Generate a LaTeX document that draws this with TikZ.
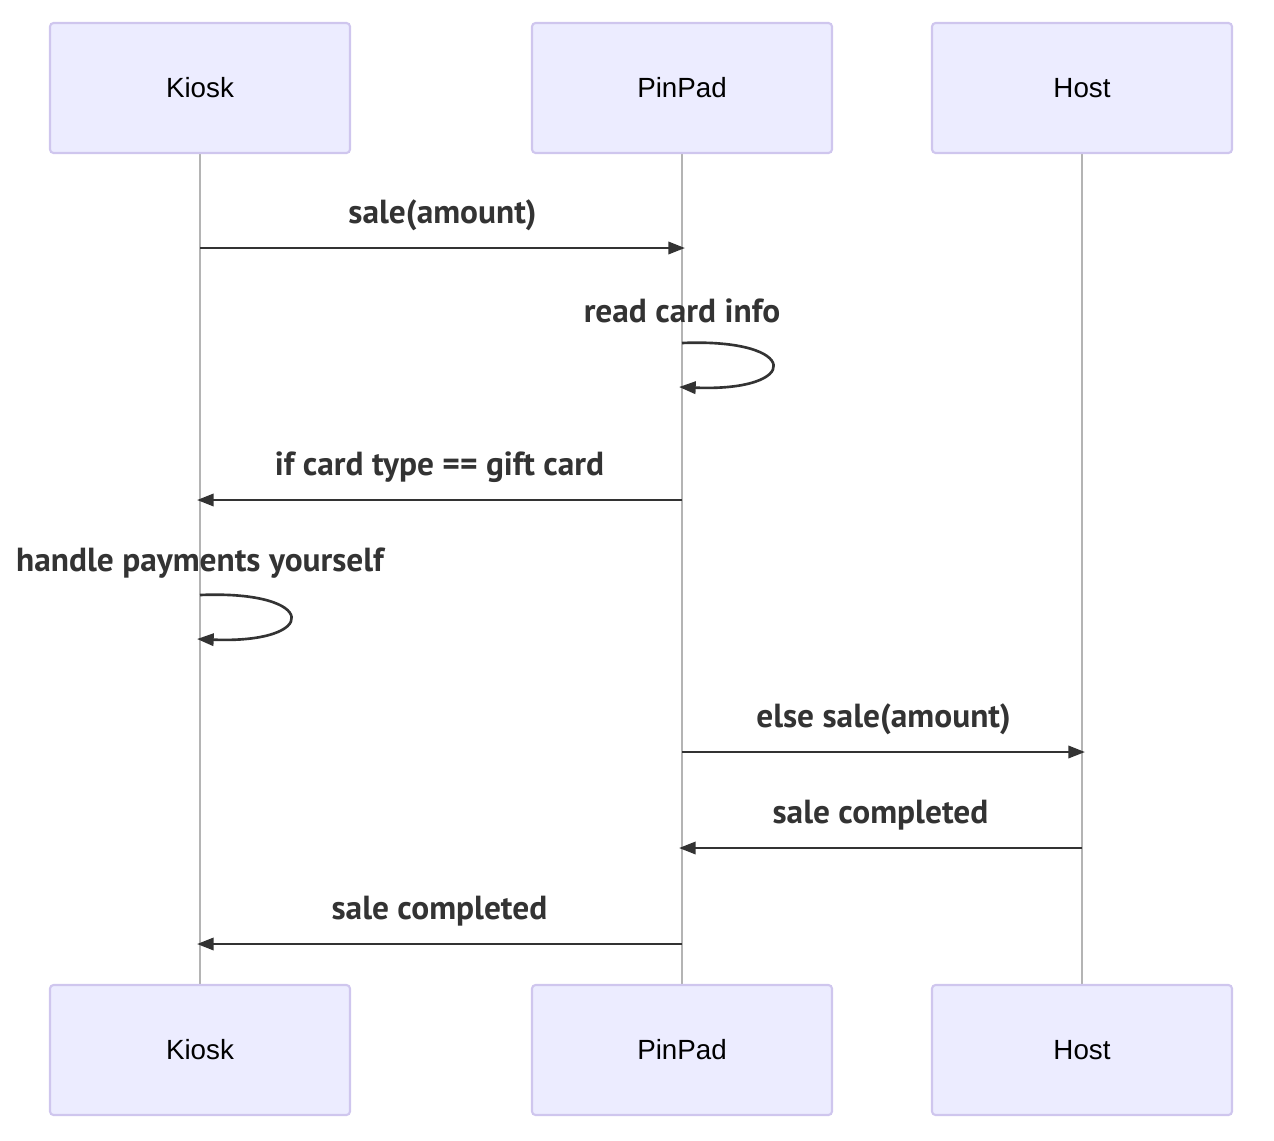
\documentclass[tikz,border=0pt]{standalone}
\usepackage{fontspec}
\setmainfont{Liberation Sans}
\newfontfamily\msgfont{PT Sans}
\usetikzlibrary{arrows.meta}
\definecolor{actorfill}{HTML}{ECECFF}
\definecolor{actorline}{HTML}{CFC6EE}
\definecolor{lifeline}{HTML}{B4B4B4}
\definecolor{msgline}{HTML}{333333}
\newcommand{\tikzActorNode}[3]{
  \node[draw=actorline,line width=1.2pt,fill=actorfill,rectangle,rounded corners=2pt,inner sep=0pt,minimum height=2.6cm,minimum width=6cm,font=\fontsize{15.8}{18}\selectfont] (#1) at (#2) {#3};
}

\begin{document}
\begin{tikzpicture}[x=0.02cm,y=-0.02cm,
  msg/.style={draw=msgline,line width=1.5pt,-{Triangle[length=9.5pt,width=7pt]}},
  lbl/.style={font=\msgfont\bfseries\fontsize{19}{21}\selectfont,text=msgline,inner sep=0pt}]
  \useasboundingbox (0,0) rectangle (1274,1140);
  % lifelines
  \draw[lifeline,line width=1pt] (200,153) -- (200,985);
  \draw[lifeline,line width=1pt] (682,153) -- (682,985);
  \draw[lifeline,line width=1pt] (1082,153) -- (1082,985);
  % actors
  \tikzActorNode{k}{200,88}{Kiosk}
  \tikzActorNode{p}{682,88}{PinPad}
  \tikzActorNode{h}{1082,88}{Host}
  \tikzActorNode{kb}{200,1050}{Kiosk}
  \tikzActorNode{pb}{682,1050}{PinPad}
  \tikzActorNode{hb}{1082,1050}{Host}
  % message points
  \coordinate (k1) at (200,248);  \coordinate (p1) at (685,248);
  \coordinate (p2) at (682,343);  \coordinate (p3) at (679,387);
  \coordinate (p4) at (682,500);  \coordinate (k4) at (197,500);
  \coordinate (k5) at (200,595);  \coordinate (k6) at (197,639);
  \coordinate (p7) at (682,752);  \coordinate (h7) at (1085,752);
  \coordinate (h8) at (1082,848); \coordinate (p8) at (679,848);
  \coordinate (p9) at (682,944);  \coordinate (k9) at (197,944);
  % messages
  \path (k1) edge[msg] node[lbl,midway,yshift=0.66cm] {sale(amount)} (p1);
  \draw[msg] (p2) .. controls (802,338) and (802,392) .. (p3);
  \node[lbl] (l2) at (682,311) {read card info};
  \path (p4) edge[msg] node[lbl,midway,yshift=0.66cm] {if card type == gift card} (k4);
  \draw[msg] (k5) .. controls (320,590) and (320,644) .. (k6);
  \node[lbl] (l5) at (200,563) {handle payments yourself};
  \path (p7) edge[msg] node[lbl,midway,yshift=0.66cm] {else sale(amount)} (h7);
  \path (h8) edge[msg] node[lbl,midway,yshift=0.66cm] {sale completed} (p8);
  \path (p9) edge[msg] node[lbl,midway,yshift=0.66cm] {sale completed} (k9);
\end{tikzpicture}
\end{document}
